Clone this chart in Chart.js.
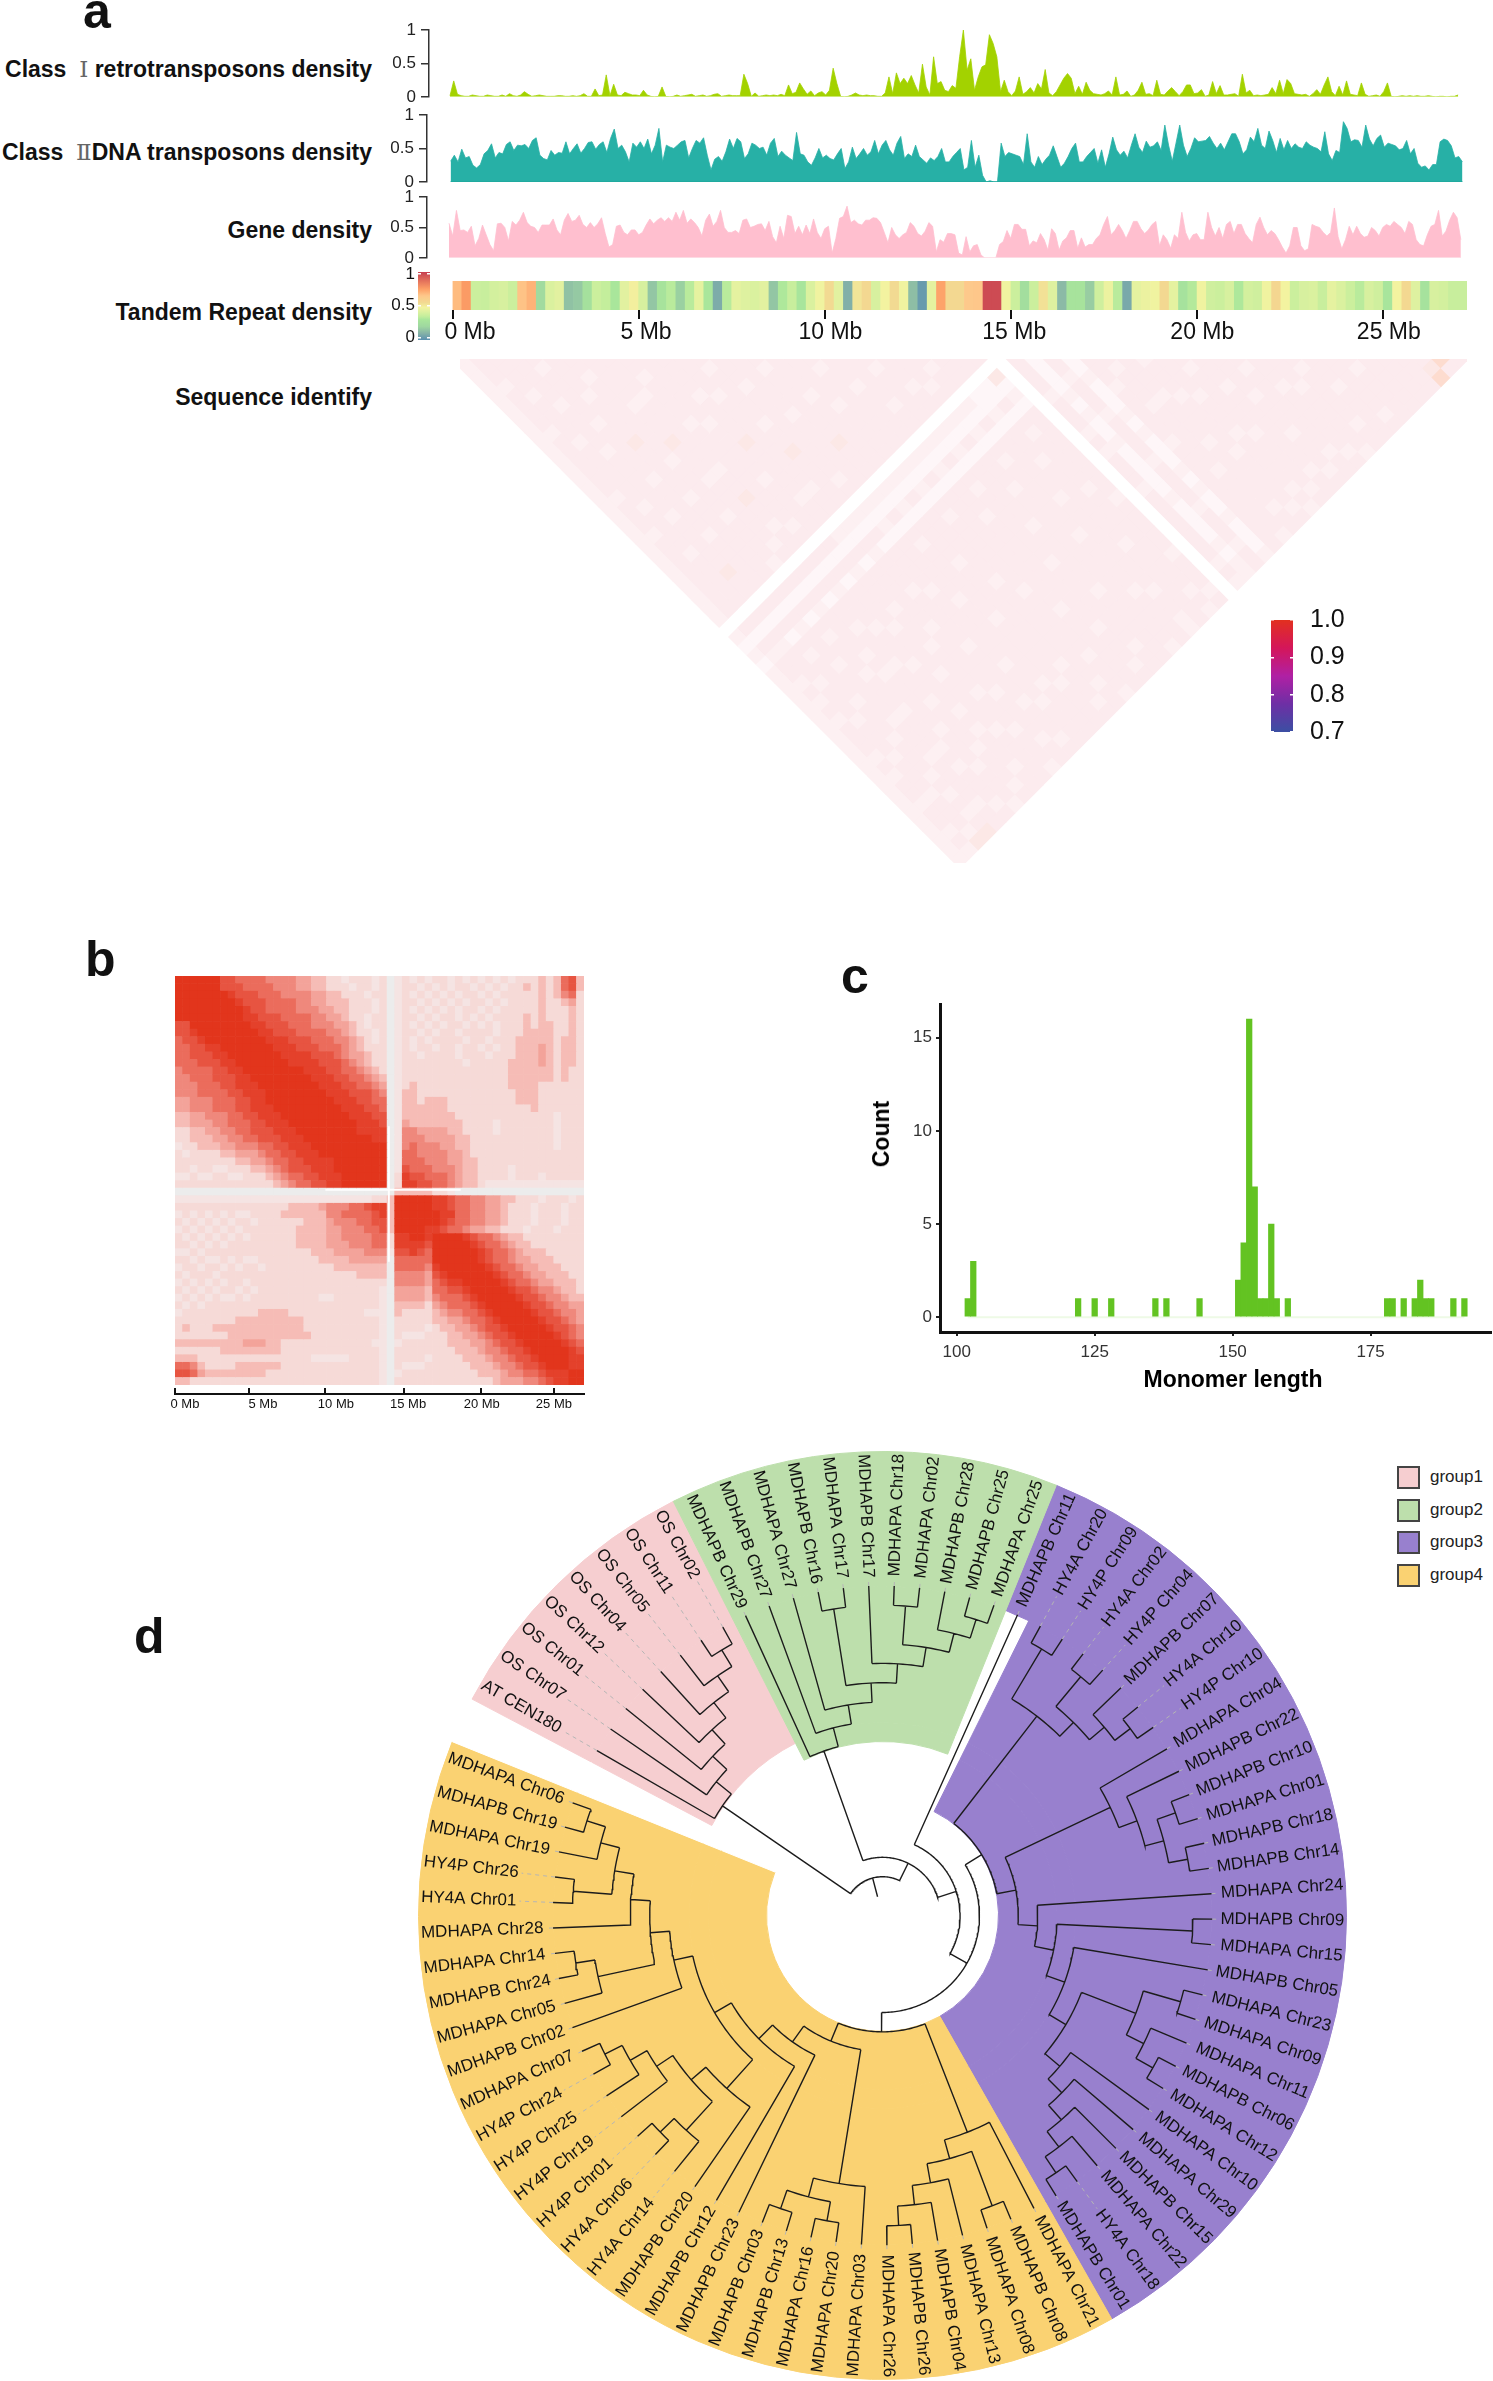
<!DOCTYPE html>
<html>
<head>
<meta charset="utf-8">
<title>Centromere figure</title>
<script src="https://cdn.jsdelivr.net/npm/chart.js@4"></script>
<style>
  body { margin: 0; background: #fff; }
  #page { position: relative; width: 1493px; height: 2381px; overflow: hidden; font-family: "Liberation Sans", Arial, sans-serif; color: #111; }
  #page canvas { position: absolute; }
  .letter { position: absolute; font-size: 50px; font-weight: bold; line-height: 1; }
  .rowName { position: absolute; left: 0; width: 372px; text-align: right; font-size: 23px; font-weight: bold; line-height: 26px; white-space: pre; }
  .rowName span { font-weight: normal; font-family: "DejaVu Serif", serif; color: #666; }
  .swatch { position: absolute; left: 1397px; width: 19px; height: 19px; border: 2px solid #444; }
  .swatchText { position: absolute; left: 1430px; font-size: 17px; line-height: 22px; color: #222; }
  .axisName { position: absolute; font-size: 23px; font-weight: bold; line-height: 28px; color: #000; white-space: pre; transform: translate(-50%, -50%); }
  .axisName.turned { transform: translate(-50%, -50%) rotate(-90deg); }
</style>
</head>
<body>
<div id="page"></div>
<script>
// panel a, density tracks in percent, one value per 0.1 Mb
var classOneDensity = [
  2,24,4,2,1,1,3,2,1,1, 3,2,1,1,3,1,5,2,1,3, 8,4,1,2,3,2,1,1,1,2, 2,1,1,2,1,2,5,1,1,12,
  2,3,33,2,19,3,2,7,5,3, 3,2,10,3,1,0,1,15,1,0, 1,3,1,2,3,4,1,2,3,1, 2,4,5,1,2,3,2,2,2,34,
  20,1,6,1,2,3,2,3,2,4, 2,18,5,7,21,12,4,9,2,6, 8,3,10,43,20,1,0,1,3,6, 3,2,3,2,2,1,1,6,30,5,
  36,20,28,20,32,18,6,49,15,3, 60,20,23,10,8,17,13,60,100,40, 57,10,30,45,48,93,80,60,8,25,
  8,2,9,30,4,8,14,6,20,12, 41,6,2,8,18,28,35,28,5,16, 4,22,10,5,4,3,5,9,3,30,
  3,4,9,1,3,10,22,4,5,2, 25,4,3,9,14,8,2,8,18,18, 5,6,11,1,3,23,5,17,3,3,
  4,5,1,34,6,10,2,3,2,3, 4,14,5,25,5,26,20,5,4,3, 4,1,5,11,4,18,30,8,2,16,
  3,24,4,3,2,21,4,1,2,3, 1,8,21,1,0,1,2,1,2,1, 2,1,1,2,1,0,1,1,0,1, 1,3
];
var classTwoDensity = [
  31,40,30,49,36,38,25,21,26,42, 47,57,36,44,42,56,60,47,55,54, 56,50,62,66,40,35,33,47,40,44,
  43,60,42,50,57,43,50,59,60,49, 56,60,44,65,79,50,55,45,30,58, 52,60,50,64,42,55,80,30,55,52,
  50,55,60,62,36,50,62,58,66,40, 18,34,38,31,45,64,50,65,60,35, 42,58,55,50,52,40,58,65,38,46,
  40,36,32,74,42,40,30,25,36,50, 36,40,35,33,42,50,20,30,52,35, 42,50,40,45,62,42,55,62,48,40,
  58,68,35,42,38,55,38,33,28,36, 32,38,50,30,30,38,44,50,18,22, 62,22,40,10,0,2,0,0,58,38,
  44,42,40,38,26,72,30,22,38,26, 34,40,54,38,22,28,38,50,58,30, 30,38,44,50,28,48,22,42,67,48,
  40,46,36,55,72,52,44,61,52,54, 60,47,85,55,31,58,85,55,38,50, 66,60,61,62,68,58,50,58,48,60,
  72,72,60,42,48,67,60,80,55,50, 76,62,44,65,48,62,50,57,52,50, 60,55,52,50,45,75,42,32,47,44,
  90,80,60,63,62,52,85,64,54,65, 70,52,58,56,54,48,50,62,42,50, 28,22,24,18,26,26,60,64,62,54, 36,38,30
];
var geneDensity = [
  57,36,78,45,46,42,52,20,32,54, 38,22,12,56,57,50,28,60,54,62, 75,58,52,50,42,54,54,54,64,46,
  38,62,73,60,62,70,55,50,58,50, 56,66,40,18,22,52,54,42,38,46, 46,38,42,54,64,56,62,66,60,66,
  60,75,62,78,57,64,58,50,36,62, 72,52,60,78,50,42,42,45,40,62, 64,50,52,55,56,45,60,35,25,52,
  32,70,68,40,52,38,54,40,64,42, 32,48,52,8,32,65,68,85,58,62, 56,54,62,62,66,65,58,42,25,50,
  38,32,38,42,58,52,40,36,44,58, 52,10,30,26,40,40,38,8,5,35, 10,20,22,5,0,0,0,0,22,27,
  45,32,55,55,47,47,20,28,25,40, 30,13,48,40,13,28,33,45,45,16, 33,18,22,22,32,38,55,68,38,45,
  55,45,32,45,60,60,48,40,46,55, 60,20,38,30,16,38,32,75,42,28, 38,40,30,30,75,50,36,50,32,55,
  60,40,55,55,40,32,25,55,67,50, 38,45,40,30,18,8,20,50,50,20, 12,15,55,52,50,42,36,42,82,35,
  15,30,52,38,52,40,34,36,50,45, 36,50,55,52,60,55,50,40,60,55, 30,22,20,38,52,55,78,36,44,62, 75,66,30
];
// tandem repeat density in percent, one value per 0.25 Mb
var repeatDensity = [
  68,76,37,36,39,40,37,66,70,22, 41,43,14,16,26,37,35,30,43,49, 40,15,28,33,18,33,44,30,8,33,
  44,42,41,43,15,31,36,29,41,47, 55,43,9,52,56,40,48,55,47,13, 3,44,74,56,56,64,65,97,97,47,
  37,24,37,53,42,12,28,28,17,38, 46,33,7,44,46,47,56,44,27,32, 47,38,37,40,31,39,38,47,57,48,
  37,40,41,36,44,41,37,33,40,38, 29,48,56,42,27,40,39,36,36
];
var mbTicks = [0, 5, 10, 15, 20, 25];
var mbLabels = ["0 Mb", "5 Mb", "10 Mb", "15 Mb", "20 Mb", "25 Mb"];
var trackLabelSpots = [0.47, 5.2, 10.15, 15.09, 20.14, 25.15];

// panel a, sequence identity: one row per 0.5 Mb, a digit per column from the diagonal on.
// 0 is empty. "|" jumps over the empty band at 14.5 Mb
var identityRows = [
  "22222222222222222222222222222|2121222222222222222222222",
  "3332333323333332333233333333|3132332323233323233233232",
  "333323333233333323333233333|3132333233323332333233324",
  "33333233332333333233333433|3131323333233323332323234",
  "3233333233333233333233333|3132333233333233323333233",
  "333323333433333233333333|3131323332333233323233323",
  "33233333333233333233332|3132333323233333233323332",
  "3333323334333233333323|3131332333233323333233323",
  "333323333333233433233|3132333233323333232333233",
  "33233332333333333323|3131333323333233333233333",
  "3333333233333233333|3132333233323333233323332",
  "333323333433333233|2131333333233333323333233",
  "33332333333333233|2132333233333233333233323",
  "3233333233433333|2131333323333333233323333",
  "333233333333323|2121333333233333333233333",
  "33333323333333|2131323333333233333323333",
  "3233333334333|2121333323333333333233323",
  "333323333333|2131333333323333333333233",
  "33333233333|2121323333333233333323332",
  "3233333333|2131333333333333233333333",
  "333233333|2121333233333333333233323",
  "33333233|2131323333333233333333233",
  "3233333|2121333333233333323333333",
  "333233|2131333233333333333333332",
  "33323|2121323333333233333233333",
  "3233|2131333333233333333323322",
  "333|1121333233333333233333333",
  "33|1131323333323333333333232",
  "3|4121333333333233333233323",
  "",
  "3333233323233323333333232",
  "111121211211111211112122",
  "33233323333233332333233",
  "1121112121112121121112",
  "333233333233333333333",
  "32333233333323333332",
  "3333233332333333233",
  "233323333323333323",
  "33332333233333232",
  "3233333323333323",
  "333233333333233",
  "33332333233323",
  "3233333333233",
  "333233333323",
  "33323333332",
  "3233333233",
  "333233333",
  "33333323",
  "3233333",
  "333333",
  "33333",
  "3333",
  "345",
  "53",
  "3"
];
var identityColors = ["#ffffff", "#fef6f8", "#fdf0f2", "#fcebee", "#fce8e6", "#fddccf"];
var identityStops = ["#3b4fa3", "#6e2fa5", "#b020a4", "#d4165a", "#e2301f"];
var identityTicks = [0.7, 0.8, 0.9, 1.0];

var heatStops = [[0, "#5b90b0"], [0.1, "#86b3a7"], [0.2, "#9fd8a0"], [0.3, "#a9e69b"], [0.35, "#c4ee9c"], [0.42, "#def1a0"],
  [0.48, "#f3f3a0"], [0.55, "#f2da92"], [0.65, "#fec78a"], [0.75, "#fd9f66"], [1, "#c73f50"]];

// panel b, contact map: upper half of a 54 x 54 grid of 0.5 Mb bins, the digit is the strength
var contactRows = [
  "9999 9977 66665555 4433 22122212 01 2121221212 1212122 2323 673",
  "999 9977 76666555 4433 22212212 01 2212121221 2121223 2323 673",
  "99 9998 77766655 5544 33222122 01 2121212122 1212222 2323 562",
  "9 9999 87776666 5544 33322212 01 2212121212 2121222 2322 342",
  "9999 98776666 5554 43322212 01 2121212122 1212222 2322 232",
  "999 98877766 6655 44322122 01 2212122121 2122223 2322 232",
  "99 99887776 6655 54432122 01 2121212212 1212223 2332 232",
  "9 99988777 6666 55432212 01 2212122122 2212223 3332 232",
  "99998887 7766 65543212 01 2121222212 2122233 3332 332",
  "9999888 7776 66543222 01 2122122122 1212233 3432 332",
  "999988 8877 76544322 01 2212222122 2122233 3432 332",
  "99998 8887 77654322 01 2222222212 2222333 3432 332",
  "9999 9888 77665432 01 2222222222 2222333 3332 322",
  "999 9988 87766543 01 2222222222 2222333 3332 322",
  "99 9998 88776654 01 2322222222 2222333 3222 222",
  "9 9999 88877765 01 3322222222 2222233 3222 222",
  "9999 98887766 01 3323332222 2222233 3222 222",
  "999 99888776 01 3333332222 2222222 3222 222",
  "99 99988877 01 3333333222 2222222 2221 222",
  "9 99998887 01 4333333322 2212222 2221 222",
  "99998888 01 5544443322 2212222 2221 222",
  "9999988 01 5554444332 2222222 2221 222",
  "999999 01 5655544332 2222222 2221 222",
  "99999 01 6655554432 2222222 2222 222",
  "9999 01 6665554433 2222222 2222 222",
  "999 01 7666555433 2222122 2222 222",
  "99 02 8776665433 2222122 2122 222",
  "9 02 8877665433 2111111 1111 111",
  "0 3 3333221000 0000000 0000 000",
  "9999988766554433222122212",
  "999988766554432221222122",
  "99998866554432221222122",
  "9998766554432221222122",
  "887665443322212221222",
  "99998766543322222222",
  "9999876654332222222",
  "999987665433322222",
  "99987665443332222",
  "9998766544333222",
  "999876654433322",
  "99987665443332",
  "9998776554332",
  "999877655433",
  "99987765544",
  "9998776554",
  "999877654",
  "99987765",
  "9998765",
  "999876",
  "99987",
  "9988",
  "988",
  "99",
  "9"
];
var contactColors = ["#ececec", "#f5e4e3", "#f6dad7", "#f6bcb6", "#f3a39a", "#ef887c", "#eb6c5c", "#e75441", "#e4412b", "#e2351c"];
var contactTicks = [0, 4.92, 9.98, 15.2, 20.36, 25.2];
var contactLabelSpots = [0.66, 5.85, 10.7, 15.5, 20.4, 25.2];

// panel c
var monomerLengths = [102,103,122,125,128,136,138,144,151,152,153,154,155,156,157,158,160,178,179,181,183,184,185,186,190,192];
var monomerCounts = [1,3,1,1,1,1,1,1,2,4,16,7,1,1,5,1,1,1,1,1,1,2,1,1,1,1];

// panel d, topology of the tree, read clockwise from AT CEN180
var group1Tree = ["AT CEN180", ["OS Chr07", ["OS Chr01", ["OS Chr12", ["OS Chr04", ["OS Chr05", ["OS Chr11", "OS Chr02"]]]]]]];
var group2Tree = ["MDHAPB Chr29", ["MDHAPB Chr27", ["MDHAPA Chr27", [["MDHAPB Chr16", "MDHAPA Chr17"],
  ["MDHAPB Chr17", [["MDHAPA Chr18", "MDHAPA Chr02"], ["MDHAPB Chr28", ["MDHAPB Chr25", "MDHAPA Chr25"]]]]]]]];
var group3Upper = [["HY4A Chr20", "HY4P Chr09"], [["HY4A Chr02", "HY4P Chr04"], ["MDHAPB Chr07", ["HY4A Chr10", "HY4P Chr10"]]]];
var group3Middle = ["MDHAPA Chr04", ["MDHAPB Chr22", [["MDHAPB Chr10", "MDHAPA Chr01"], ["MDHAPB Chr18", "MDHAPB Chr14"]]]];
var group3Lower = ["MDHAPA Chr24", [["MDHAPB Chr09", "MDHAPA Chr15"], ["MDHAPB Chr05", [
  [["MDHAPA Chr23", "MDHAPA Chr09"], ["MDHAPA Chr11", ["MDHAPB Chr06", "MDHAPA Chr12"]]],
  ["MDHAPA Chr10", ["MDHAPA Chr29", ["MDHAPB Chr15", ["MDHAPA Chr22", ["HY4A Chr18", "MDHAPB Chr01"]]]]]]]]];
var group3Tree = [group3Upper, [group3Middle, group3Lower]];
var group4First = ["MDHAPA Chr21", [["MDHAPB Chr08", "MDHAPA Chr08"], ["MDHAPA Chr13", ["MDHAPB Chr04", ["MDHAPB Chr26", "MDHAPA Chr26"]]]]];
var group4Second = ["MDHAPA Chr03", [["MDHAPA Chr20", "MDHAPA Chr16"], ["MDHAPB Chr13", "MDHAPB Chr03"]]];
var group4Third = ["MDHAPB Chr20", [["HY4A Chr14", ["HY4A Chr06", "HY4P Chr01"]], ["HY4P Chr19", ["HY4P Chr25", ["HY4P Chr24", "MDHAPA Chr07"]]]]];
var group4Fourth = ["MDHAPB Chr02", [["MDHAPA Chr05", ["MDHAPB Chr24", "MDHAPA Chr14"]],
  ["MDHAPA Chr28", [["HY4A Chr01", "HY4P Chr26"], ["MDHAPA Chr19", ["MDHAPB Chr19", "MDHAPA Chr06"]]]]]];
var group4Tree = [group4First, [group4Second, ["MDHAPB Chr23", ["MDHAPB Chr12", [group4Third, group4Fourth]]]]];
var fullTree = [group1Tree, [group2Tree, ["MDHAPB Chr11", [group3Tree, group4Tree]]]];

var pink = "#f6ced0", green = "#bddfac", purple = "#9880ce", yellow = "#fad272", white = "#ffffff";
var groupNames = ["group1", "group2", "group3", "group4"];
var groupColors = [pink, green, purple, yellow];
// sector sizes in degrees, clockwise from the green and purple border, outer ring first
var ringOuter = [128.4, 141.6, 5.8, 35.4, 48.8];
var ringOuterColors = [purple, yellow, white, pink, green];
var ringThird = [4.4, 124, 141.6, 5.8, 35.4, 48.8];
var ringThirdColors = [white, purple, yellow, white, pink, green];
var ringSecond = [4.4, 124, 141.6, 41.2, 48.8];
var ringSecondColors = [white, purple, yellow, white, green];
var ringInner = [4.4, 124, 141.6, 90];
var ringInnerColors = [white, purple, yellow, white];

Chart.defaults.font.family = '"Liberation Sans", Arial, sans-serif';
Chart.defaults.animation = false;
Chart.defaults.responsive = false;
Chart.defaults.devicePixelRatio = 1;
Chart.defaults.layout.autoPadding = false;
Chart.defaults.plugins.legend.display = false;
Chart.defaults.plugins.tooltip.enabled = false;

var page = document.getElementById("page");

function addCanvas(left, top, width, height) {
  var canvas = document.createElement("canvas");
  canvas.width = width;
  canvas.height = height;
  canvas.style.left = left + "px";
  canvas.style.top = top + "px";
  canvas.style.width = width + "px";
  canvas.style.height = height + "px";
  page.appendChild(canvas);
  return canvas;
}

function addText(className, text, left, top) {
  var div = document.createElement("div");
  div.className = className;
  div.innerHTML = text;
  if (left !== null) div.style.left = left + "px";
  div.style.top = top + "px";
  page.appendChild(div);
}

function fixedTicks(list) {
  return function (axis) {
    axis.ticks = list.map((v) => ({ value: v }));
  };
}

// tick labels that sit beside their tick, as in the original figure
function axisText(spots, labels, y, font) {
  return {
    id: "axisText",
    afterDraw(chart) {
      var ctx = chart.ctx;
      ctx.save();
      ctx.font = font;
      ctx.fillStyle = "#111";
      ctx.textAlign = "center";
      ctx.textBaseline = "middle";
      labels.forEach((label, i) => {
        ctx.fillText(label, chart.scales.x.getPixelForValue(spots[i]), y);
      });
      ctx.restore();
    }
  };
}

function heatColor(value) {
  var v = value / 100;
  var i = 1;
  while (i < heatStops.length - 1 && heatStops[i][0] < v) i++;
  var a = heatStops[i - 1], b = heatStops[i];
  var t = Math.min(1, Math.max(0, (v - a[0]) / (b[0] - a[0])));
  var mix = [1, 3, 5].map((p) => {
    var from = parseInt(a[1].substr(p, 2), 16), to = parseInt(b[1].substr(p, 2), 16);
    return Math.round(from + (to - from) * t);
  });
  return "rgb(" + mix.join(",") + ")";
}

function newTrack(values, color, baseColor, axisX, startX, top, bottom) {
  var canvasLeft = 385, canvasRight = 1480, pxPerMb = 37.2, margin = 16;
  var canvasTop = top - margin;
  var canvas = addCanvas(canvasLeft, canvasTop, canvasRight - canvasLeft, bottom - canvasTop + margin);
  var points = values.map((v, i) => ({ x: i * 0.1, y: v / 100 }));
  new Chart(canvas, {
    type: "scatter",
    data: {
      datasets: [
        { data: [points[0], { x: points[points.length - 1].x, y: 0 }].map((p) => ({ x: p.x, y: 0 })), showLine: true, pointRadius: 0, borderColor: baseColor, borderWidth: 1.5 },
        { data: points, showLine: true, fill: "origin", tension: 0, pointRadius: 0, borderColor: color, borderWidth: 0.8, backgroundColor: color }
      ]
    },
    options: {
      layout: { padding: { top: margin, bottom: margin } },
      scales: {
        x: { type: "linear", display: false, min: (axisX - startX) / pxPerMb, max: (canvasRight - startX) / pxPerMb },
        y: {
          min: 0, max: 1,
          afterFit(axis) { axis.width = axisX - canvasLeft; },
          afterBuildTicks: fixedTicks([0, 0.5, 1]),
          grid: { drawOnChartArea: false, color: "#333", lineWidth: 1.5, tickLength: 8 },
          border: { color: "#333", width: 1.5 },
          ticks: { font: { size: 17 }, color: "#222", padding: 5, callback: (v) => String(v) }
        }
      }
    }
  });
}

function newColorKey(stops, left, top, barWidth, barHeight, axisWidth, position, min, max, tickList, fontSize, gap, labelFn) {
  var margin = 34;
  var canvas = addCanvas(left, top - margin, barWidth + axisWidth, barHeight + margin * 2);
  new Chart(canvas, {
    type: "bar",
    data: {
      labels: [""],
      datasets: [{
        data: [[min, max]],
        barPercentage: 1,
        categoryPercentage: 1,
        backgroundColor(ctx) {
          var area = ctx.chart.chartArea;
          if (!area) return stops[0][1];
          var gradient = ctx.chart.ctx.createLinearGradient(0, area.bottom, 0, area.top);
          stops.forEach((s) => gradient.addColorStop(s[0], s[1]));
          return gradient;
        }
      }]
    },
    options: {
      layout: { padding: { top: margin, bottom: margin } },
      scales: {
        x: { display: false },
        y: {
          position: position, min: min, max: max,
          afterFit(axis) { axis.width = axisWidth; },
          afterBuildTicks: fixedTicks(tickList),
          grid: { color: "#ffffff", lineWidth: 1.5, z: 1, drawTicks: false },
          border: { display: false, dash: [3, barWidth - 6] },
          ticks: { font: { size: fontSize }, color: "#111", padding: gap, callback: labelFn }
        }
      }
    }
  });
}

// panel a text
addText("letter", "a", 83, -14);
addText("rowName", 'Class  <span>Ⅰ</span> retrotransposons density', null, 56);
addText("rowName", 'Class  <span>Ⅱ</span>DNA transposons density', null, 139);
addText("rowName", "Gene density", null, 217);
addText("rowName", "Tandem Repeat density", null, 299);
addText("rowName", "Sequence identify", null, 384);

newTrack(classOneDensity, "#a3d200", "#d9ef99", 429, 450, 29.5, 96.5);
newTrack(classTwoDensity, "#27b0a6", "#1fa89d", 427, 450.6, 115, 182);
newTrack(geneDensity, "#ffbfcf", "#fde3ea", 427, 449, 197, 258);

// tandem repeat heat strip
new Chart(addCanvas(440, 281, 1040, 64), {
  type: "bar",
  data: {
    datasets: [{
      data: repeatDensity.map((v, i) => ({ x: (i + 0.5) * 0.25, y: 1 })),
      backgroundColor: repeatDensity.map(heatColor),
      barPercentage: 1,
      categoryPercentage: 1,
      borderWidth: 0
    }]
  },
  options: {
    layout: { padding: { left: 12.5, right: 13 } },
    scales: {
      x: {
        type: "linear", min: 0, max: 27.25, offset: false,
        afterFit(axis) { axis.height = 35; },
        afterBuildTicks: fixedTicks(mbTicks),
        grid: { offset: false, drawOnChartArea: false, color: "#111", lineWidth: 2, tickLength: 9 },
        border: { display: false },
        ticks: { display: false }
      },
      y: { display: false, min: 0, max: 1 }
    }
  },
  plugins: [axisText(trackLabelSpots, mbLabels, 52, "23px 'Liberation Sans', Arial, sans-serif")]
});

newColorKey(heatStops, 385, 272, 12, 68, 33, "left", -0.036, 1.03, [0, 0.5, 1], 17, 3, (v) => String(v));

// sequence identity triangle, each cell is a diamond between two positions on the genome
var identityPoints = [];
var identityPointColors = [];
identityRows.forEach((row, i) => {
  var parts = row.split("|");
  parts.forEach((part, p) => {
    var firstColumn = p === 0 ? i : 30;
    part.split("").forEach((digit, c) => {
      var j = firstColumn + c;
      if (digit === "0" || j > 54) return;
      identityPoints.push({ x: (i + j) / 4, y: (j - i) / 4 });
      identityPointColors.push(identityColors[+digit]);
    });
  });
});
new Chart(addCanvas(460, 359, 1007, 504), {
  type: "scatter",
  data: {
    datasets: [{
      data: identityPoints,
      pointStyle: "rectRot",
      pointRadius: 9.7,
      pointBorderWidth: 0,
      pointBackgroundColor: identityPointColors
    }]
  },
  options: {
    scales: {
      x: { type: "linear", display: false, min: 0, max: 27.2 },
      y: { type: "linear", display: false, min: 0, max: 13.6, reverse: true }
    }
  }
});

newColorKey(identityStops.map((c, i) => [i / 4, c]), 1271, 620, 22, 112, 70, "right", 0.7, 1.0, identityTicks, 25, 17, (v) => v.toFixed(1));

// panel b
addText("letter", "b", 85, 934);
var contactPoints = [];
var contactPointColors = [];
var binMb = 27.2 / 54;
contactRows.forEach((row, i) => {
  row.replace(/ /g, "").split("").forEach((digit, c) => {
    var j = i + c;
    if (j > 53) return;
    contactPoints.push({ x: (j + 0.5) * binMb, y: (i + 0.5) * binMb });
    contactPointColors.push(contactColors[+digit]);
    if (i !== j) {
      contactPoints.push({ x: (i + 0.5) * binMb, y: (j + 0.5) * binMb });
      contactPointColors.push(contactColors[+digit]);
    }
  });
});
new Chart(addCanvas(175, 976, 409, 409), {
  type: "scatter",
  data: {
    datasets: [
      { data: [{ x: 14.22, y: 10 }, { x: 14.22, y: 19 }], showLine: true, pointRadius: 0, borderColor: "#ffffff", borderWidth: 2 },
      { data: [{ x: 10, y: 14.22 }, { x: 19, y: 14.22 }], showLine: true, pointRadius: 0, borderColor: "#ffffff", borderWidth: 2 },
      { data: contactPoints, pointStyle: "rect", pointRadius: 5.8, pointBorderWidth: 0, pointBackgroundColor: contactPointColors }
    ]
  },
  options: {
    scales: {
      x: { type: "linear", display: false, min: 0, max: 27.2 },
      y: { type: "linear", display: false, min: 0, max: 27.2, reverse: true }
    }
  }
});
new Chart(addCanvas(165, 1385, 430, 32), {
  type: "scatter",
  data: { datasets: [{ data: [] }] },
  options: {
    layout: { padding: { left: 10, right: 11 } },
    scales: {
      x: {
        type: "linear", position: "top", min: 0, max: 27.2,
        afterFit(axis) { axis.height = 9; },
        afterBuildTicks: fixedTicks(contactTicks),
        grid: { drawOnChartArea: false, color: "#111", lineWidth: 2, tickLength: 6 },
        border: { color: "#111", width: 2 },
        ticks: { display: false }
      },
      y: { display: false, min: 0, max: 1 }
    }
  },
  plugins: [axisText(contactLabelSpots, mbLabels, 19, "13px 'Liberation Sans', Arial, sans-serif")]
});

// panel c
addText("letter", "c", 841, 951);
new Chart(addCanvas(867, 990, 625, 405), {
  type: "bar",
  data: {
    datasets: [
      { data: monomerLengths.map((x, i) => ({ x: x, y: monomerCounts[i] })), backgroundColor: "#63c322", barThickness: 5.6, borderWidth: 0 },
      { type: "scatter", data: [{ x: 102, y: 0 }, { x: 192, y: 0 }], showLine: true, pointRadius: 0, borderColor: "#eefae6", borderWidth: 2 }
    ]
  },
  options: {
    layout: { padding: { top: 14 } },
    scales: {
      x: {
        type: "linear", min: 96.97, max: 197, offset: false,
        afterFit(axis) { axis.height = 63; },
        afterBuildTicks: fixedTicks([100, 125, 150, 175]),
        grid: { offset: false, drawOnChartArea: false, color: "#222", lineWidth: 2, tickLength: 4 },
        border: { color: "#111", width: 3 },
        ticks: { font: { size: 17 }, color: "#333", padding: 6, maxRotation: 0, callback: (v) => String(v) }
      },
      y: {
        min: -0.79, max: 16.8,
        afterFit(axis) { axis.width = 73; },
        afterBuildTicks: fixedTicks([0, 5, 10, 15]),
        grid: { drawOnChartArea: false, color: "#222", lineWidth: 2, tickLength: 4 },
        border: { color: "#111", width: 3 },
        ticks: { font: { size: 17 }, color: "#333", padding: 4, callback: (v) => String(v) }
      }
    }
  }
});
addText("axisName", "Monomer length", 1233, 1379);
addText("axisName turned", "Count", 881, 1134);

// panel d
addText("letter", "d", 134, 1611);
new Chart(addCanvas(418, 1451, 929, 929), {
  type: "doughnut",
  data: {
    labels: ringOuterColors,
    datasets: [
      { data: ringOuter, backgroundColor: ringOuterColors, borderColor: ringOuterColors, borderWidth: 1, weight: 135 },
      { data: ringThird, backgroundColor: ringThirdColors, borderColor: ringThirdColors, borderWidth: 1, weight: 136 },
      { data: ringSecond, backgroundColor: ringSecondColors, borderColor: ringSecondColors, borderWidth: 1, weight: 19 },
      { data: ringInner, backgroundColor: ringInnerColors, borderColor: ringInnerColors, borderWidth: 1, weight: 58 }
    ]
  },
  options: { rotation: 22, cutout: "25%" }
});

// the tree: tips are evenly spread, radius comes from the height of a node above its tips
var tipStep = 4.43, firstTipAngle = -62.2;
var tipRadius = 17, labelRadius = 23.81, outerRadius = 23.95, unitPx = 19.4;
var treeSegments = [];
var dashSegments = [];
var tipPlaces = [];
var measure = document.createElement("canvas").getContext("2d");
var labelFont = "17px 'Liberation Sans', Arial, sans-serif";
measure.font = labelFont;

function polar(angle, r) {
  var rad = angle * Math.PI / 180;
  return { x: r * Math.sin(rad), y: r * Math.cos(rad) };
}

function addPath(list, points) {
  points.forEach((p) => list.push(p));
  list.push({ x: NaN, y: NaN });
}

function layOut(node) {
  if (typeof node === "string") {
    var angle = firstTipAngle + (tipPlaces.length + 0.5) * tipStep;
    tipPlaces.push({ name: node, angle: angle });
    var inner = labelRadius - (measure.measureText(node).width + 3) / unitPx;
    addPath(dashSegments, [polar(angle, tipRadius), polar(angle, inner)]);
    return { angle: angle, height: 0 };
  }
  var kids = node.map(layOut);
  var height = 1 + Math.max(kids[0].height, kids[1].height);
  var r = tipRadius - height;
  var arc = [];
  for (var a = kids[0].angle; a < kids[1].angle; a += 1) arc.push(polar(a, r));
  arc.push(polar(kids[1].angle, r));
  addPath(treeSegments, arc);
  kids.forEach((kid) => {
    addPath(treeSegments, [polar(kid.angle, r), polar(kid.angle, tipRadius - kid.height)]);
  });
  return { angle: (kids[0].angle + kids[1].angle) / 2, height: height };
}

var rootNode = layOut(fullTree);
addPath(treeSegments, [polar(rootNode.angle, tipRadius - rootNode.height), polar(rootNode.angle, tipRadius - rootNode.height - 1)]);

var tipLabels = {
  id: "tipLabels",
  afterDatasetsDraw(chart) {
    var ctx = chart.ctx;
    ctx.save();
    ctx.font = labelFont;
    ctx.fillStyle = "#111";
    ctx.textBaseline = "middle";
    tipPlaces.forEach((tip) => {
      var norm = (tip.angle + 360) % 360;
      var p = polar(tip.angle, labelRadius);
      ctx.save();
      ctx.translate(chart.scales.x.getPixelForValue(p.x), chart.scales.y.getPixelForValue(p.y));
      if (norm < 180) {
        ctx.rotate((norm - 90) * Math.PI / 180);
        ctx.textAlign = "right";
      } else {
        ctx.rotate((norm + 90) * Math.PI / 180);
        ctx.textAlign = "left";
      }
      ctx.fillText(tip.name, 0, 0);
      ctx.restore();
    });
    ctx.restore();
  }
};

new Chart(addCanvas(418, 1451, 929, 929), {
  type: "scatter",
  data: {
    datasets: [
      { data: treeSegments, showLine: true, spanGaps: false, pointRadius: 0, borderColor: "#1c1c1c", borderWidth: 1.4 },
      { data: dashSegments, showLine: true, spanGaps: false, pointRadius: 0, borderColor: "#b5b5b5", borderWidth: 1, borderDash: [4, 4] }
    ]
  },
  options: {
    scales: {
      x: { type: "linear", display: false, min: -outerRadius, max: outerRadius },
      y: { type: "linear", display: false, min: -outerRadius, max: outerRadius }
    }
  },
  plugins: [tipLabels]
});

groupNames.forEach((name, i) => {
  var top = 1466 + i * 32.7;
  var box = document.createElement("div");
  box.className = "swatch";
  box.style.top = top + "px";
  box.style.background = groupColors[i];
  page.appendChild(box);
  addText("swatchText", name, null, top);
});
</script>
</body>
</html>
